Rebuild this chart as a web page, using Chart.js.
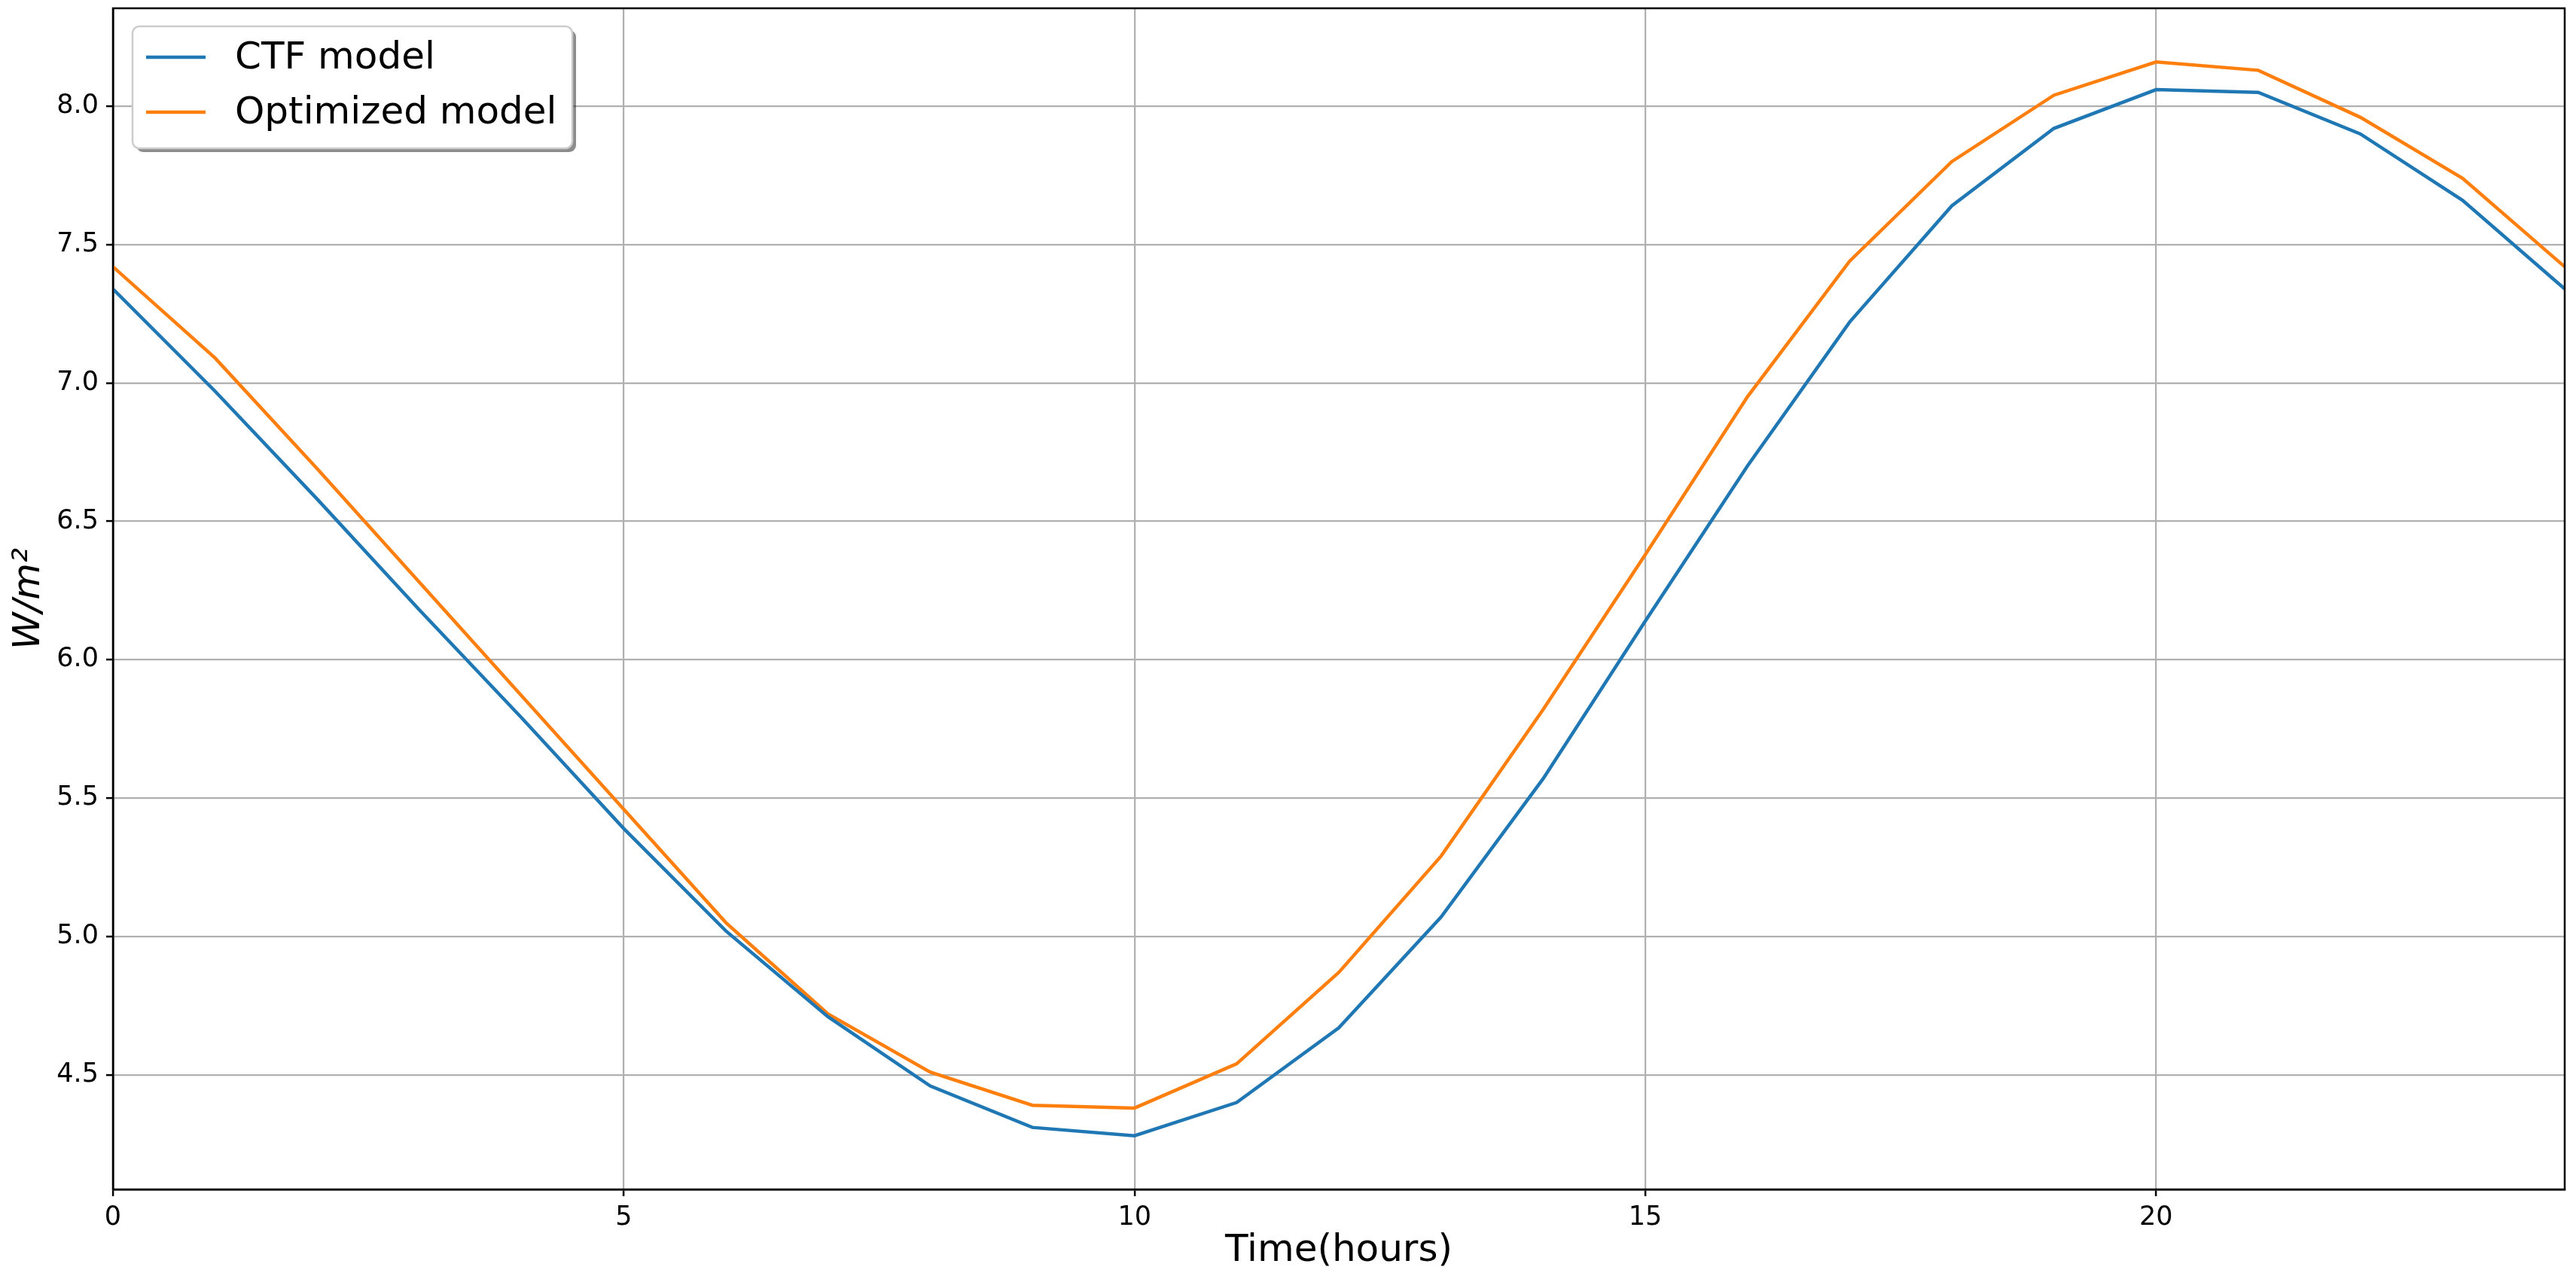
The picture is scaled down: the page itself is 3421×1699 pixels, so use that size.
<!DOCTYPE html>
<html>
<head>
<meta charset="utf-8">
<script src="https://cdn.jsdelivr.net/npm/chart.js@4.4.0/dist/chart.umd.min.js"></script>
<style>
  html, body { margin: 0; padding: 0; background: #fff; }
  canvas { display: block; }
</style>
</head>
<body>
<canvas id="lineChart" width="3421" height="1699"></canvas>
<script>
// data
const hours = [0, 1, 2, 3, 4, 5, 6, 7, 8, 9, 10, 11, 12, 13, 14, 15, 16, 17, 18, 19, 20, 21, 22, 23, 24];
const ctfModel = [7.34, 6.97, 6.58, 6.18, 5.79, 5.39, 5.02, 4.71, 4.46, 4.31, 4.28, 4.40, 4.67,
                  5.07, 5.57, 6.14, 6.70, 7.22, 7.64, 7.92, 8.06, 8.05, 7.90, 7.66, 7.34];
const optimizedModel = [7.42, 7.09, 6.69, 6.28, 5.87, 5.46, 5.05, 4.72, 4.51, 4.39, 4.38, 4.54, 4.87,
                        5.29, 5.82, 6.38, 6.95, 7.44, 7.80, 8.04, 8.16, 8.13, 7.96, 7.74, 7.42];
const seriesLabels = ["CTF model", "Optimized model"];
const seriesColors = ["#1f77b4", "#ff7f0e"];
const xTicks = [0, 5, 10, 15, 20];
const yTicks = [4.5, 5.0, 5.5, 6.0, 6.5, 7.0, 7.5, 8.0];

const FONT = "DejaVu Sans";

// matplotlib style 5% margins on y
const allVals = ctfModel.concat(optimizedModel);
const yLo = Math.min(...allVals), yHi = Math.max(...allVals);
const yPad = (yHi - yLo) * 0.05;

const toPoints = (vals) => hours.map((h, i) => ({ x: h, y: vals[i] }));

// black frame round the plot area
const framePlugin = {
  id: "frame",
  afterDatasetsDraw(chart) {
    const { ctx, chartArea: a } = chart;
    ctx.save();
    ctx.strokeStyle = "#000";
    ctx.lineWidth = 2.5;
    ctx.strokeRect(a.left, a.top, a.right - a.left, a.bottom - a.top);
    ctx.restore();
  }
};

// legend box inside the axes, upper left, with shadow
const insideLegend = {
  id: "insideLegend",
  afterDraw(chart) {
    const { ctx, chartArea: a } = chart;
    const bx = a.left + 26, by = a.top + 24, bw = 584, bh = 162, r = 9;
    ctx.save();
    const box = (x, y) => {
      ctx.beginPath();
      ctx.roundRect(x, y, bw, bh, r);
    };
    box(bx + 5, by + 5);
    ctx.fillStyle = "rgba(0,0,0,0.45)";
    ctx.fill();
    box(bx, by);
    ctx.fillStyle = "#fff";
    ctx.fill();
    ctx.strokeStyle = "#cccccc";
    ctx.lineWidth = 2.5;
    ctx.stroke();

    ctx.font = "50px '" + FONT + "'";
    ctx.textBaseline = "middle";
    ctx.textAlign = "left";
    chart.data.datasets.forEach((ds, i) => {
      const ly = by + 41 + i * 73;
      ctx.strokeStyle = ds.borderColor;
      ctx.lineWidth = 4.5;
      ctx.beginPath();
      ctx.moveTo(bx + 18, ly);
      ctx.lineTo(bx + 97, ly);
      ctx.stroke();
      ctx.fillStyle = "#000";
      ctx.fillText(ds.label, bx + 136, ly + 2);
    });
    ctx.restore();
  }
};

var ctx = document.getElementById("lineChart").getContext("2d");

var lineChart = new Chart(ctx, {
  type: "line",
  data: {
    datasets: [
      {
        label: seriesLabels[0],
        data: toPoints(ctfModel),
        borderColor: seriesColors[0],
        backgroundColor: seriesColors[0],
        borderWidth: 4.5,
        pointRadius: 0,
        tension: 0,
      },
      {
        label: seriesLabels[1],
        data: toPoints(optimizedModel),
        borderColor: seriesColors[1],
        backgroundColor: seriesColors[1],
        borderWidth: 4.5,
        pointRadius: 0,
        tension: 0,
      },
    ],
  },
  options: {
    responsive: false,
    animation: false,
    devicePixelRatio: 1,
    layout: { padding: { top: 11, right: 15, left: 0, bottom: 0 } },
    plugins: {
      legend: { display: false },
      tooltip: { enabled: false },
    },
    scales: {
      x: {
        type: "linear",
        min: 0,
        max: 24,
        afterBuildTicks: (s) => { s.ticks = xTicks.map((v) => ({ value: v })); },
        afterFit: (s) => { s.height = 119; s.paddingLeft = 0; s.paddingRight = 0; },
        grid: { color: "#b0b0b0", lineWidth: 2.2, tickColor: "#000", tickLength: 9, tickWidth: 2.5 },
        border: { display: true, color: "#000", width: 2.5 },
        ticks: {
          color: "#000",
          padding: 8,
          maxRotation: 0,
          font: { family: FONT, size: 35 },
          callback: (v) => String(v),
        },
        title: {
          display: true,
          text: "Time(hours)",
          color: "#000",
          font: { family: FONT, size: 50 },
          padding: { top: 0, bottom: 7 },
        },
      },
      y: {
        type: "linear",
        min: yLo - yPad,
        max: yHi + yPad,
        afterBuildTicks: (s) => { s.ticks = yTicks.map((v) => ({ value: v })); },
        afterFit: (s) => { s.width = 150; s.paddingTop = 0; s.paddingBottom = 0; },
        grid: { color: "#b0b0b0", lineWidth: 2.2, tickColor: "#000", tickLength: 9, tickWidth: 2.5 },
        border: { display: true, color: "#000", width: 2.5 },
        ticks: {
          color: "#000",
          padding: 10,
          font: { family: FONT, size: 35 },
          callback: (v) => v.toFixed(1),
        },
        title: {
          display: true,
          text: "W/m²",
          color: "#000",
          font: { family: FONT, size: 50, style: "italic" },
          padding: { top: 9, bottom: 0 },
        },
      },
    },
  },
  plugins: [framePlugin, insideLegend],
});
</script>
</body>
</html>
